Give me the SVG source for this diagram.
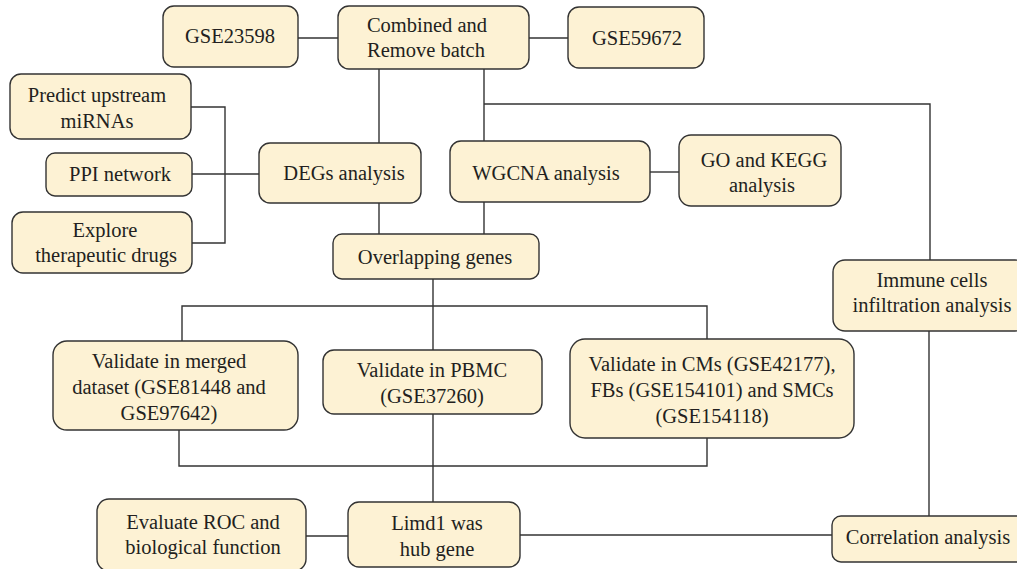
<svg xmlns="http://www.w3.org/2000/svg" width="1017" height="569" viewBox="0 0 1017 569">
<style>
.box{fill:#fdf2d4;stroke:#333;stroke-width:1.4}
.ln{fill:none;stroke:#333;stroke-width:1.4}
.t text{font-size:20.5px;fill:#231f20;text-anchor:middle}
</style>
<rect width="1017" height="569" fill="#fff"/>
<g id="connectors" class="ln">
<path d="M298,38 H338"/>
<path d="M529,38 H568"/>
<path d="M379,69 V143"/>
<path d="M484,69 V141"/>
<path d="M484,104 H930 V260"/>
<path d="M191,107 H225 V243 H192"/>
<path d="M192,174 H259"/>
<path d="M650,172 H679"/>
<path d="M379,203 V234"/>
<path d="M484,202 V234"/>
<path d="M433,279 V350"/>
<path d="M182,341 V306 H707 V339"/>
<path d="M179,430 V466 H707 V438"/>
<path d="M433,414 V502"/>
<path d="M306,536 H348"/>
<path d="M520,535 H832"/>
<path d="M929,331 V516"/>
</g>
<g class="t" font-family="Liberation Serif, Times New Roman, serif">
<g id="n_gse23598"><rect class="box" x="163" y="6" width="135" height="61" rx="11"/><text x="230" y="43">GSE23598</text></g>
<g id="n_combined"><rect class="box" x="338" y="6" width="191" height="63" rx="11"/><text x="427" y="32">Combined and</text><text x="426" y="57">Remove batch</text></g>
<g id="n_gse59672"><rect class="box" x="568" y="7" width="136" height="61" rx="11"/><text x="637" y="45">GSE59672</text></g>
<g id="n_predict"><rect class="box" x="10" y="74" width="181" height="65" rx="11"/><text x="97" y="102">Predict upstream</text><text x="97" y="128">miRNAs</text></g>
<g id="n_ppi"><rect class="box" x="46" y="153" width="146" height="43" rx="9"/><text x="120" y="181">PPI network</text></g>
<g id="n_explore"><rect class="box" x="12" y="212" width="180" height="61" rx="11"/><text x="105" y="237">Explore</text><text x="106" y="262">therapeutic drugs</text></g>
<g id="n_degs"><rect class="box" x="259" y="143" width="162" height="60" rx="11"/><text x="344" y="180">DEGs analysis</text></g>
<g id="n_wgcna"><rect class="box" x="450" y="141" width="200" height="61" rx="11"/><text x="546" y="180">WGCNA analysis</text></g>
<g id="n_gokegg"><rect class="box" x="679" y="135" width="162" height="71" rx="12"/><text x="764" y="167">GO and KEGG</text><text x="762" y="192">analysis</text></g>
<g id="n_overlap"><rect class="box" x="333" y="234" width="206" height="45" rx="9"/><text x="435" y="264">Overlapping genes</text></g>
<g id="n_immune"><rect class="box" x="833" y="260" width="194" height="71" rx="12"/><text x="932" y="287">Immune cells</text><text x="932" y="312">infiltration analysis</text></g>
<g id="n_merged"><rect class="box" x="53" y="341" width="245" height="89" rx="14"/><text x="169" y="368">Validate in merged</text><text x="169" y="394">dataset (GSE81448 and</text><text x="169" y="420">GSE97642)</text></g>
<g id="n_pbmc"><rect class="box" x="323" y="350" width="219" height="64" rx="11"/><text x="432" y="377">Validate in PBMC</text><text x="432" y="403">(GSE37260)</text></g>
<g id="n_cms"><rect class="box" x="570" y="339" width="284" height="99" rx="15"/><text x="712" y="371">Validate in CMs (GSE42177),</text><text x="712" y="397">FBs (GSE154101) and SMCs</text><text x="712" y="423">(GSE154118)</text></g>
<g id="n_evaluate"><rect class="box" x="97" y="499" width="209" height="72" rx="12"/><text x="203" y="529">Evaluate ROC and</text><text x="203" y="554">biological function</text></g>
<g id="n_limd1"><rect class="box" x="348" y="502" width="172" height="65" rx="11"/><text x="437" y="530">Limd1 was</text><text x="437" y="556">hub gene</text></g>
<g id="n_correlation"><rect class="box" x="832" y="516" width="194" height="46" rx="9"/><text x="928" y="544">Correlation analysis</text></g>
</g>
</svg>
